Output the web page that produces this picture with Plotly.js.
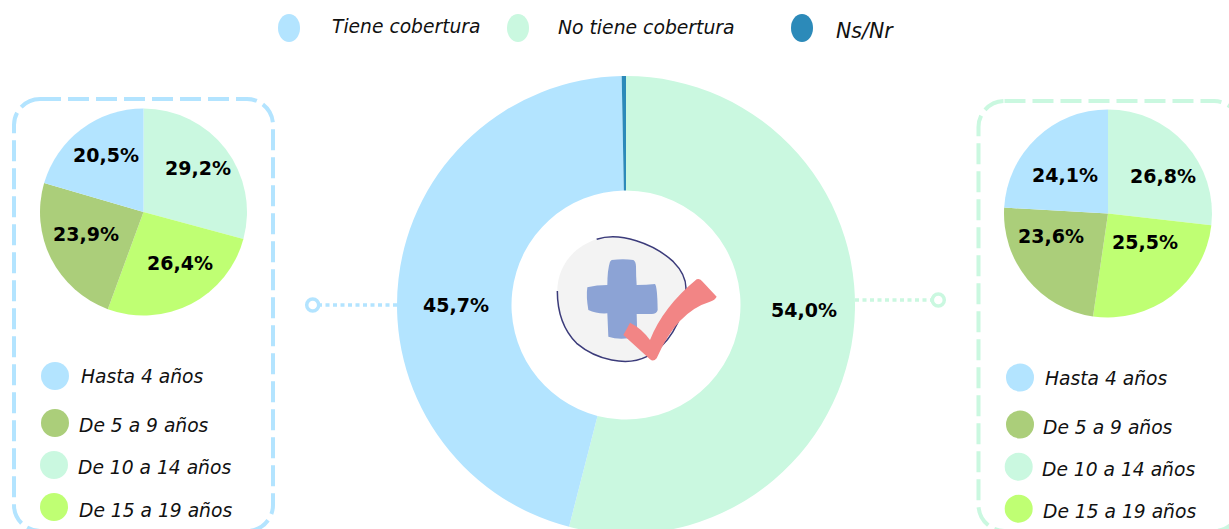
<!DOCTYPE html>
<html><head><meta charset="utf-8">
<script src="https://cdn.plot.ly/plotly-3.0.1.min.js"></script>
<style>html,body{margin:0;padding:0;background:#fff;overflow:hidden;width:1229px;height:529px}</style>
</head><body><div id="chart" style="width:1229px;height:540px"></div>
<script>
var BLUE='#B3E4FF',MINT='#CAF8E0',OLIVE='#ABCE7A',LIME='#BFFF73',DARK='#2C8AB9';
var mainLabels=['No tiene cobertura','Tiene cobertura','Ns/Nr'];
var mainValues=[54.0,45.7,0.3];
var ageLabels=['De 10 a 14 años','De 15 a 19 años','De 5 a 9 años','Hasta 4 años'];
var leftValues=[29.2,26.4,23.9,20.5];
var rightValues=[26.8,25.5,23.6,24.1];
var W=1229,H=540;
function fx(p){return p/W;} function fy(p){return 1-p/H;}
function fmt(v){return v.toFixed(1).replace('.',',')+'%';}
function dom(cx,cy,r){return {x:[fx(cx-r),fx(cx+r)],y:[fy(cy+r),fy(cy-r)]};}
function pie(labels,values,colors,d,hole){return {type:'pie',labels:labels,values:values,sort:false,direction:'clockwise',rotation:0,hole:hole||0,domain:d,textinfo:'none',hoverinfo:'label+percent',showlegend:false,marker:{colors:colors,line:{width:0}}};}
var ageColors=[MINT,LIME,OLIVE,BLUE];
var data=[
 pie(mainLabels,mainValues,[MINT,BLUE,DARK],dom(626,305,229),0.5),
 pie(ageLabels,leftValues,ageColors,dom(143.5,212,103.5)),
 pie(ageLabels,rightValues,ageColors,dom(1108,213.5,104))
];
var ann=[];
function valueLabel(x,y,t){ann.push({xref:'paper',yref:'paper',x:fx(x),y:fy(y),text:t,showarrow:false,xanchor:'center',yanchor:'middle',font:{family:'"DejaVu Sans"',size:19,color:'#000',weight:700}});}
function legText(x,y,t,s){ann.push({xref:'paper',yref:'paper',x:fx(x),y:fy(y),text:t,showarrow:false,xanchor:'left',yanchor:'middle',font:{family:'"DejaVu Sans"',size:s||18.7,color:'#111',style:'italic'}});}
var leftPos=[[198,168],[180,263],[86,234],[106,155]];
var rightPos=[[1163,176],[1145,242],[1051,236],[1065,175]];
leftValues.forEach(function(v,i){valueLabel(leftPos[i][0],leftPos[i][1],fmt(v));});
rightValues.forEach(function(v,i){valueLabel(rightPos[i][0],rightPos[i][1],fmt(v));});
valueLabel(804,310,fmt(mainValues[0]));
valueLabel(456,305,fmt(mainValues[1]));
var shapes=[];
function circle(cx,cy,rx,ry,c){shapes.push({type:'circle',xref:'paper',yref:'paper',x0:fx(cx-rx),x1:fx(cx+rx),y0:fy(cy+ry),y1:fy(cy-ry),fillcolor:c,line:{width:0},layer:'above'});}
var topNames=[mainLabels[1],mainLabels[0],mainLabels[2]];
var topPos=[[289,28,330,26],[518,28,556,28],[802,28,834,31]];
var topCols=[BLUE,MINT,DARK];
var topSizes=[18.7,18.8,20.5];
topNames.forEach(function(n,i){circle(topPos[i][0],topPos[i][1],11,14,topCols[i]);legText(topPos[i][2],topPos[i][3],n,topSizes[i]);});
var legNames=['Hasta 4 años','De 5 a 9 años','De 10 a 14 años','De 15 a 19 años'];
var legCols=[BLUE,OLIVE,MINT,LIME];
var lPos=[[55,376,79,376],[55,423,77,425],[54,465,76,467],[54,507,77,510]];
var rPos=[[1020,377.5,1043,378],[1020,424.5,1041,427],[1018.7,466.7,1040,469],[1018.7,508.7,1041,511]];
legNames.forEach(function(n,i){
 circle(lPos[i][0],lPos[i][1],14,14,legCols[i]);legText(lPos[i][2],lPos[i][3],n);
 circle(rPos[i][0],rPos[i][1],14,14,legCols[i]);legText(rPos[i][2],rPos[i][3],n);
});
function P(segs){return segs.map(function(s){
 var out=s[0];var a=s.slice(1);var parts=[];
 for(var i=0;i<a.length;i+=2){parts.push(fx(a[i]).toFixed(6)+','+fy(a[i+1]).toFixed(6));}
 return out+parts.join(' ');}).join(' ');}
function Z(segs){
 return segs.map(function(s){var o=[s[0]];for(var i=1;i<s.length;i+=2){o.push(480+s[i]/3,180+s[i+1]/3);}return o;});}
function path(segs,fill,line,extra){var sh={type:'path',xref:'paper',yref:'paper',path:P(segs)+(extra||''),fillcolor:fill,line:line||{width:0},layer:'above'};shapes.push(sh);}
function roundRect(x0,y0,x1,y1,r,c){
 var k=r*0.45;
 path([['M',x0+r,y0],['L',x1-r,y0],['C',x1-k,y0,x1,y0+k,x1,y0+r],['L',x1,y1-r],['C',x1,y1-k,x1-k,y1,x1-r,y1],['L',x0+r,y1],['C',x0+k,y1,x0,y1-k,x0,y1-r],['L',x0,y0+r],['C',x0,y0+k,x0+k,y0,x0+r,y0]],'rgba(0,0,0,0)',{color:c,width:4,dash:'21px,7px'},' Z');
}
roundRect(14,99,273,531,26,BLUE);
roundRect(978.5,101,1240,531,26,MINT);
function dotted(x0,x1,y,c){shapes.push({type:'line',xref:'paper',yref:'paper',x0:fx(x0),x1:fx(x1),y0:fy(y),y1:fy(y),line:{color:c,width:3.5,dash:'4px,3.5px'},layer:'above'});}
function ring(cx,cy,r,c){shapes.push({type:'circle',xref:'paper',yref:'paper',x0:fx(cx-r),x1:fx(cx+r),y0:fy(cy+r),y1:fy(cy-r),fillcolor:'#fff',line:{color:c,width:3.5},layer:'above'});}
dotted(318,397,305,BLUE);ring(312.7,305,6,BLUE);
dotted(855,932,300,MINT);ring(938.3,300,6,MINT);
path(Z([['M',350,178],['C',420,155,520,190,580,245],['C',605,270,618,295,618,325],['C',610,430,560,500,500,530],['C',440,560,350,540,290,490],['C',250,450,232,400,232,333],['C',232,260,280,200,350,178]]),'#F3F3F3',{width:0},' Z');
path(Z([['M',350,178],['C',420,155,520,190,580,245],['C',605,270,618,295,618,325],['C',610,430,560,500,500,530],['C',440,560,350,540,290,490],['C',250,450,232,400,232,333]]),'rgba(0,0,0,0)',{color:'#3B3B7A',width:1.5});
path(Z([['M',395,240],['Q',430,236,460,240],['Q',468,245,468,260],['Q',468,290,470,315],['Q',500,315,525,312],['Q',532,320,533,390],['Q',530,402,515,402],['L',470,402],['L',472,470],['Q',420,482,385,470],['L',382,400],['Q',350,402,325,390],['Q',318,350,322,322],['Q',350,315,382,315],['Q',382,270,390,245]]),'#8CA3D5',{width:0},' Z');
path(Z([['M',430,465],['L',450,428],['Q',485,445,510,480],['Q',550,380,650,298],['Q',660,294,668,305],['L',710,350],['Q',705,360,690,365],['Q',590,395,530,535],['Q',520,547,510,538]]),'#F28585',{width:0},' Z');
Plotly.newPlot('chart',data,{width:W,height:H,margin:{l:0,r:0,t:0,b:0},paper_bgcolor:'#fff',plot_bgcolor:'#fff',annotations:ann,shapes:shapes},{displayModeBar:false,staticPlot:true});
</script></body></html>
